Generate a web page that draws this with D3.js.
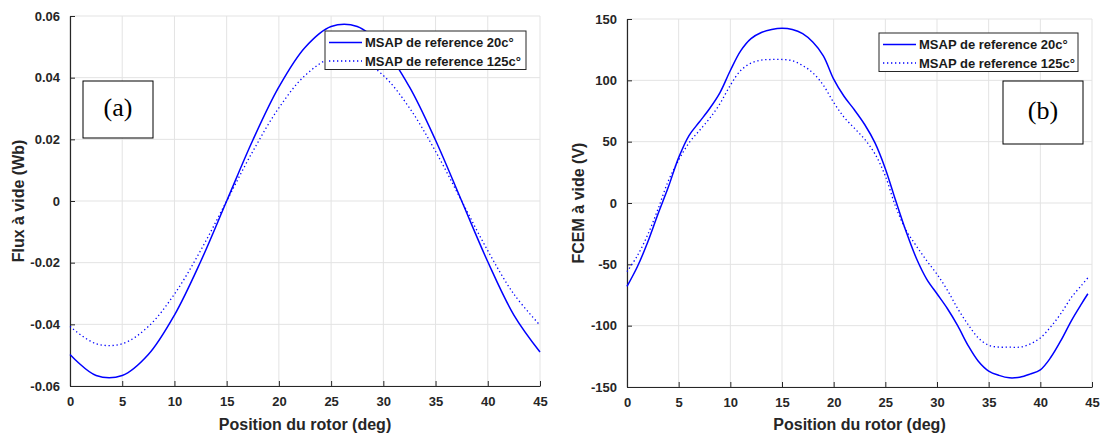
<!DOCTYPE html>
<html>
<head>
<meta charset="utf-8">
<script src="https://cdn.jsdelivr.net/npm/d3@7"></script>
<style>
  body { margin: 0; background: #fff; }
  svg { display: block; }
</style>
</head>
<body>
<div id="container"></div>
<script>
// rotor position (deg)
let fluxPos = [0, 2.5, 5, 7.5, 10, 12.5, 15, 17.5, 20, 22.5, 25, 27.5, 30, 32.5, 35, 37.5, 40, 42.5, 45];
// no-load flux (Wb)
let flux20 = [-0.0498, -0.0566, -0.0566, -0.0498, -0.0370, -0.0197, 0, 0.0197, 0.0370, 0.0498, 0.0566, 0.0566, 0.0498, 0.0370, 0.0197, 0, -0.0197, -0.0370, -0.0490];
let flux125 = [-0.0407, -0.0463, -0.0463, -0.0407, -0.0302, -0.0161, 0, 0.0161, 0.0302, 0.0407, 0.0463, 0.0463, 0.0407, 0.0302, 0.0161, 0, -0.0161, -0.0302, -0.0403];

let emfPos = [0, 1, 2, 3, 4, 5, 6, 7, 8, 9, 10, 11, 12, 13, 14, 15, 16, 17, 18, 19, 20, 21, 22,
  23, 24, 25, 26, 27, 28, 29, 30, 31, 32, 33, 34, 35, 36, 37, 38, 39, 40, 41, 42, 43, 44, 44.6];
// no-load back EMF (V)
let emf20 = [-68, -52, -32, -9, 13, 37, 55, 66, 77, 90, 108, 124, 134, 139, 141.5, 142.5, 141.5, 138, 131, 120, 101, 87, 76,
  64, 49, 28, 2, -23, -45, -62, -74, -86, -100, -116, -129, -137, -140.5, -142.5, -142, -139.5, -136, -126, -112, -96, -82, -74];
let emf125 = [-56, -43, -26, -5, 18, 35, 49, 59, 69, 81, 96, 108, 114, 116.5, 117, 117, 116, 112, 106, 96, 82, 70, 61,
  52, 40, 22, -3, -22, -35, -47, -58, -71, -86, -99, -110, -116, -117.5, -117.5, -117.5, -115, -110, -101, -90, -77, -67, -61];

let xTicks = [0, 5, 10, 15, 20, 25, 30, 35, 40, 45];
let fluxTicks = [-0.06, -0.04, -0.02, 0, 0.02, 0.04, 0.06];
let fluxTickLabels = ["-0.06", "-0.04", "-0.02", "0", "0.02", "0.04", "0.06"];
let emfTicks = [-150, -100, -50, 0, 50, 100, 150];
let legendNames = ["MSAP de reference 20c\u00b0", "MSAP de reference 125c\u00b0"];

let w = 1100;
let h = 433;
let axisColor = "#262626";
let gridColor = "#e3e3e3";
let lineColor = "#0000ff";

let viz = d3.select("#container")
  .append("svg")
    .attr("width", w)
    .attr("height", h)
    .style("background-color", "white");

function drawPanel(p) {
  let xScale = d3.scaleLinear().domain([0, 45]).range([p.left, p.right]);
  let yScale = d3.scaleLinear().domain(p.yDomain).range([p.bottom, p.top]);
  let g = viz.append("g");

  // grid
  g.selectAll(".vgrid").data(xTicks).enter().append("line")
    .attr("x1", d => xScale(d)).attr("x2", d => xScale(d))
    .attr("y1", p.top).attr("y2", p.bottom)
    .attr("stroke", gridColor).attr("stroke-width", 1);
  g.selectAll(".hgrid").data(p.yTicks).enter().append("line")
    .attr("x1", p.left).attr("x2", p.right)
    .attr("y1", d => yScale(d)).attr("y2", d => yScale(d))
    .attr("stroke", gridColor).attr("stroke-width", 1);

  // axes (ticks inside, like matlab)
  let xAxis = d3.axisBottom(xScale).tickValues(xTicks).tickSizeInner(-5).tickSizeOuter(0).tickPadding(11);
  let yAxis = d3.axisLeft(yScale).tickValues(p.yTicks).tickSizeInner(-5).tickSizeOuter(0).tickPadding(10)
    .tickFormat((d, i) => p.yLabels[i]);
  let gx = g.append("g").attr("transform", "translate(0," + p.bottom + ")").call(xAxis);
  let gy = g.append("g").attr("transform", "translate(" + p.left + ",0)").call(yAxis);
  [gx, gy].forEach(a => {
    a.select(".domain").attr("stroke", axisColor).attr("stroke-width", 1.2);
    a.selectAll(".tick line").attr("stroke", axisColor);
    a.selectAll("text")
      .attr("fill", axisColor)
      .style("font-family", "Liberation Sans, Arial, sans-serif")
      .style("font-weight", "bold")
      .style("font-size", "13px");
  });

  // curves
  let line = d3.line()
    .x(d => xScale(d[0]))
    .y(d => yScale(d[1]))
    .curve(d3.curveCatmullRom.alpha(0.5));
  g.append("path")
    .datum(p.xs.map((x, i) => [x, p.s1[i]]))
    .attr("d", line)
    .attr("fill", "none").attr("stroke", lineColor).attr("stroke-width", 1.5);
  g.append("path")
    .datum(p.xs.map((x, i) => [x, p.s2[i]]))
    .attr("d", line)
    .attr("fill", "none").attr("stroke", lineColor).attr("stroke-width", 1.3)
    .attr("stroke-dasharray", "1.3,2.7");

  // axis labels
  g.append("text")
    .attr("x", (p.left + p.right) / 2).attr("y", 430)
    .attr("text-anchor", "middle")
    .attr("fill", axisColor)
    .style("font-family", "Liberation Sans, Arial, sans-serif")
    .style("font-weight", "bold").style("font-size", "16px")
    .text("Position du rotor (deg)");
  g.append("text")
    .attr("transform", "translate(" + p.yLabelX + "," + (p.top + p.bottom) / 2 + ") rotate(-90)")
    .attr("text-anchor", "middle")
    .attr("fill", axisColor)
    .style("font-family", "Liberation Sans, Arial, sans-serif")
    .style("font-weight", "bold").style("font-size", "16px")
    .text(p.yTitle);

  // legend
  let lg = g.append("g").attr("transform", "translate(" + p.legend[0] + "," + p.legend[1] + ")");
  lg.append("rect").attr("width", p.legend[2]).attr("height", 38.5)
    .attr("fill", "white").attr("stroke", axisColor).attr("stroke-width", 1);
  legendNames.forEach((name, i) => {
    let yy = 11.5 + i * 18.5;
    lg.append("line").attr("x1", 4).attr("x2", 37).attr("y1", yy).attr("y2", yy)
      .attr("stroke", lineColor).attr("stroke-width", i == 0 ? 1.5 : 1.3)
      .attr("stroke-dasharray", i == 0 ? null : "1.3,2.7");
    lg.append("text").attr("x", 40).attr("y", yy + 4.5)
      .attr("fill", "#1a1a1a")
      .style("font-family", "Liberation Sans, Arial, sans-serif")
      .style("font-weight", "bold").style("font-size", "13px")
      .text(name);
  });

  // (a)/(b) tag
  let b = p.tag;
  g.append("rect").attr("x", b[0]).attr("y", b[1]).attr("width", b[2]).attr("height", b[3])
    .attr("fill", "white").attr("stroke", "black").attr("stroke-width", 1);
  g.append("text")
    .attr("x", b[0] + b[2] / 2).attr("y", b[1] + b[3] / 2 + 6)
    .attr("text-anchor", "middle")
    .style("font-family", "Liberation Serif, Times New Roman, serif")
    .style("font-size", "26px")
    .text(p.tagText);
}

drawPanel({
  left: 70, right: 540, top: 16, bottom: 386,
  yDomain: [-0.06, 0.06], yTicks: fluxTicks, yLabels: fluxTickLabels,
  xs: fluxPos, s1: flux20, s2: flux125,
  yTitle: "Flux \u00e0 vide (Wb)", yLabelX: 23.5,
  legend: [325, 31, 201],
  tag: [83, 81, 70, 57], tagText: "(a)"
});

drawPanel({
  left: 627, right: 1092, top: 19, bottom: 387,
  yDomain: [-150, 150], yTicks: emfTicks, yLabels: emfTicks.map(String),
  xs: emfPos, s1: emf20, s2: emf125,
  yTitle: "FCEM \u00e0 vide (V)", yLabelX: 583.5,
  legend: [879, 33, 199],
  tag: [1003, 81, 80, 63], tagText: "(b)"
});
</script>
</body>
</html>
